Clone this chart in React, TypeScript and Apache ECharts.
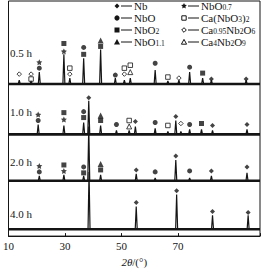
import React, { useEffect, useRef } from "react";
import * as echarts from "echarts";

// x range (2θ, degrees)
const X_MIN = 10;
const X_MAX = 99;
const xTicks = [10, 30, 50, 70, 90];

// stacked traces: label, baseline offset, peaks [2θ, height]
const traceLabels = ["0.5 h", "1.0 h", "2.0 h", "4.0 h"];
const traceOffsets = [154, 103, 56, 7];

const peaks05: [number, number][] = [
  [13.8, 4], [18, 4], [20.9, 12], [29.6, 30], [31.7, 6], [36.6, 26], [42.6, 35],
  [47.8, 6], [51, 4], [53.1, 6], [61.9, 14], [66.4, 3], [70.3, 4], [74.1, 12],
  [78.7, 6], [81.8, 4], [94.1, 4],
];
const peaks10: [number, number][] = [
  [20.5, 10], [29.6, 9], [36.6, 12], [38.4, 34], [42.6, 9], [48.2, 4], [52.7, 4],
  [54.9, 8], [61.9, 6], [66.4, 3], [69.2, 14], [71, 3], [74.1, 5], [78.3, 5],
  [82.2, 4], [94.4, 5],
];
const peaks20: [number, number][] = [
  [20.9, 5], [29.6, 6], [36.6, 5], [38.4, 55], [42.6, 6], [55.2, 7], [61.9, 3],
  [69.2, 21], [74.1, 3], [81.8, 5], [94.4, 8],
];
const peaks40: [number, number][] = [
  [38.5, 58], [55.2, 23], [69.5, 35], [82.2, 14], [94.8, 14],
];
const tracePeaks = [peaks05, peaks10, peaks20, peaks40];

// phase markers [2θ, y]
const nbMarks: [number, number][] = [
  [81.8, 159], [94.1, 159],
  [38.4, 140], [54.9, 116], [69.2, 121], [82.2, 112], [94.4, 113],
  [55.2, 67], [69.2, 81], [81.8, 66], [94.4, 70],
  [55.2, 34], [69.5, 46], [82.2, 25], [94.8, 24],
];
const nbo07Marks: [number, number][] = [
  [20.9, 176], [29.6, 187],
  [20.5, 123], [29.6, 118],
  [20.9, 71], [29.6, 66],
];
const nboMarks: [number, number][] = [
  [20.9, 170], [36.6, 191], [47.8, 163], [61.9, 175], [74.1, 171],
  [20.5, 117], [36.6, 126], [48.2, 113], [61.9, 115], [74.1, 113],
  [20.9, 65], [36.6, 70], [61.9, 65], [74.1, 66],
];
const nbo2Marks: [number, number][] = [
  [29.6, 195], [36.6, 184], [42.6, 192], [78.7, 165],
  [29.6, 125], [36.6, 120], [42.6, 117], [78.3, 114],
  [29.6, 72], [36.6, 64], [42.6, 67],
];
const nbo11Marks: [number, number][] = [
  [42.6, 198], [42.6, 122], [42.6, 73],
];
const caNbO3Marks: [number, number][] = [
  [18, 159], [31.7, 170], [51, 170], [53.1, 173], [66.4, 161],
  [52.7, 117], [66.4, 112],
];
const ca095Marks: [number, number][] = [
  [13.8, 164], [18, 164], [31.7, 164], [51, 164], [70.3, 160],
  [71, 114],
];
const ca4Marks: [number, number][] = [
  [53.1, 166], [52.7, 111],
];

const STAR =
  "path://M0,-10 L2.9,-4 9.5,-3.1 4.7,1.5 5.9,8.1 0,5 -5.9,8.1 -4.7,1.5 -9.5,-3.1 -2.9,-4Z";

const INK = "#151515";
const SERIF = "'Liberation Serif', 'DejaVu Serif', serif";

function buildTrace(offset: number, peaks: [number, number][]) {
  const pts: [number, number][] = [[X_MIN, offset]];
  const w = 0.35;
  peaks.forEach(([x, h]) => {
    pts.push([x - w, offset]);
    pts.push([x, offset + h]);
    pts.push([x + w, offset]);
  });
  pts.push([X_MAX, offset]);
  return pts;
}

type Entry = { sym: string; text: string; x: number; y: number };

const legendEntries: Entry[] = [
  { sym: "nb", text: "{n|Nb}", x: 117, y: 6 },
  { sym: "nbo", text: "{n|NbO}", x: 117, y: 18 },
  { sym: "nbo2", text: "{n|NbO}{s|2}", x: 117, y: 30 },
  { sym: "nbo11", text: "{n|NbO}{s|1.1}", x: 117, y: 42 },
  { sym: "nbo07", text: "{n|NbO}{s|0.7}", x: 184, y: 6 },
  { sym: "canbo3", text: "{n|Ca(NbO}{s|3}{n|)}{s|2}", x: 184, y: 18 },
  { sym: "ca095", text: "{n|Ca}{s|0.95}{n|Nb}{s|2}{n|O}{s|6}", x: 184, y: 30 },
  { sym: "ca4", text: "{n|Ca}{s|4}{n|Nb}{s|2}{n|O}{s|9}", x: 184, y: 42 },
];

function symbolShape(sym: string): any {
  const fill = { fill: INK };
  const empty = { fill: "#fff", stroke: INK, lineWidth: 1 };
  switch (sym) {
    case "nb":
      return { type: "polygon", shape: { points: [[0, -2.5], [2.5, 0], [0, 2.5], [-2.5, 0]] }, style: fill };
    case "nbo":
      return { type: "circle", shape: { cx: 0, cy: 0, r: 2.6 }, style: fill };
    case "nbo2":
      return { type: "rect", shape: { x: -2.5, y: -2.5, width: 5, height: 5 }, style: fill };
    case "nbo11":
      return { type: "polygon", shape: { points: [[0, -3], [3, 2.5], [-3, 2.5]] }, style: fill };
    case "nbo07":
      return {
        type: "polygon",
        shape: {
          points: [[0, -3], [0.9, -1.2], [2.85, -0.9], [1.4, 0.45], [1.8, 2.4], [0, 1.5], [-1.8, 2.4], [-1.4, 0.45], [-2.85, -0.9], [-0.9, -1.2]],
        },
        style: fill,
      };
    case "canbo3":
      return { type: "rect", shape: { x: -2.2, y: -2.2, width: 4.4, height: 4.4 }, style: empty };
    case "ca095":
      return { type: "polygon", shape: { points: [[0, -2.3], [2.3, 0], [0, 2.3], [-2.3, 0]] }, style: empty };
    default:
      return { type: "polygon", shape: { points: [[0, -2.6], [2.6, 2.2], [-2.6, 2.2]] }, style: empty };
  }
}

export default function App() {
  const ref = useRef<HTMLDivElement>(null);

  useEffect(() => {
    if (!ref.current) return;
    document.body.style.margin = "0";
    const chart = echarts.init(ref.current, null, { renderer: "svg" });

    const lineSeries: any[] = [];
    traceOffsets.forEach((off, i) => {
      lineSeries.push({
        type: "line",
        data: [[X_MIN, off], [X_MAX, off]],
        symbol: "none",
        lineStyle: { color: INK, width: 2.6 },
        silent: true,
        z: 2,
      });
      lineSeries.push({
        type: "line",
        name: traceLabels[i],
        data: buildTrace(off, tracePeaks[i]),
        symbol: "none",
        lineStyle: { color: INK, width: 1.2 },
        silent: true,
        z: 3,
      });
    });

    const mk = (name: string, data: [number, number][], symbol: string, size: number, empty = false) => ({
      type: "scatter",
      name,
      data,
      symbol,
      symbolSize: size,
      itemStyle: empty
        ? { color: "#fff", borderColor: INK, borderWidth: 1 }
        : { color: INK },
      silent: true,
      z: 5,
    });

    const markerSeries = [
      mk("Nb", nbMarks, "diamond", 5),
      mk("NbO0.7", nbo07Marks, STAR, 6),
      mk("NbO", nboMarks, "circle", 5),
      mk("NbO2", nbo2Marks, "rect", 5),
      mk("NbO1.1", nbo11Marks, "triangle", 6),
      mk("Ca(NbO3)2", caNbO3Marks, "rect", 4.5, true),
      mk("Ca0.95Nb2O6", ca095Marks, "diamond", 4.5, true),
      mk("Ca4Nb2O9", ca4Marks, "triangle", 5, true),
    ];

    const legendGraphics = legendEntries.map((e) => ({
      type: "group",
      x: e.x,
      y: e.y,
      children: [
        symbolShape(e.sym),
        {
          type: "line",
          shape: { x1: 4, y1: 0, x2: 15, y2: 0 },
          style: { stroke: INK, lineWidth: 1 },
        },
        {
          type: "text",
          x: 17,
          y: 0,
          style: {
            text: e.text,
            verticalAlign: "middle",
            align: "left",
            fill: INK,
            rich: {
              n: { fontSize: 11, fontFamily: SERIF, color: INK, lineHeight: 11 },
              s: { fontSize: 7.5, fontFamily: SERIF, color: INK, verticalAlign: "bottom", lineHeight: 11 },
            },
          },
        },
      ],
    }));

    const labelY = [53, 112, 162, 214];
    const traceLabelGraphics = traceLabels.map((t, i) => ({
      type: "text",
      x: 10,
      y: labelY[i],
      style: {
        text: t,
        fontSize: 11,
        fontFamily: SERIF,
        fill: INK,
        verticalAlign: "middle",
      },
    }));

    chart.setOption({
      animation: false,
      backgroundColor: "#fff",
      grid: {
        left: 6,
        right: 2,
        top: 1,
        bottom: 33,
        show: true,
        borderColor: INK,
        borderWidth: 1,
        backgroundColor: "transparent",
      },
      xAxis: {
        type: "value",
        min: X_MIN,
        max: X_MAX,
        interval: 20,
        axisLine: { show: true, lineStyle: { color: INK, width: 1 } },
        axisTick: { show: true, inside: true, length: 3, lineStyle: { color: INK } },
        axisLabel: {
          color: INK,
          fontSize: 11,
          fontFamily: SERIF,
          margin: 4,
          showMinLabel: true,
          showMaxLabel: false,
          customValues: xTicks,
        },
        splitLine: { show: false },
        name: "{i|2θ}{n|/(°)}",
        nameLocation: "middle",
        nameGap: 19,
        nameTextStyle: {
          color: INK,
          fontFamily: SERIF,
          fontSize: 11,
          rich: {
            i: { fontStyle: "italic", fontFamily: SERIF, fontSize: 11, color: INK },
            n: { fontFamily: SERIF, fontSize: 11, color: INK },
          },
        },
      },
      yAxis: {
        type: "value",
        min: 0,
        max: 238,
        show: false,
      },
      series: [...lineSeries, ...markerSeries],
      graphic: [...legendGraphics, ...traceLabelGraphics],
    });

    return () => chart.dispose();
  }, []);

  return <div ref={ref} style={{ width: 262, height: 272 }} />;
}
